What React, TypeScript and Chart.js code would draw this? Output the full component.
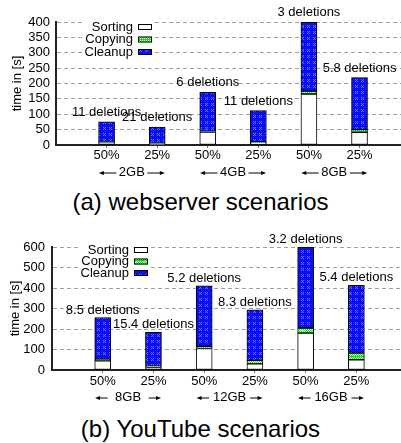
import React, { useEffect, useRef } from 'react';
import { Chart, registerables } from 'chart.js';

Chart.register(...registerables);

const FONT = '"Liberation Sans", Arial, Helvetica, sans-serif';

// ---------- data: (a) webserver scenarios ----------
const A_TICKS = ['50%', '25%', '50%', '25%', '50%', '25%'];
const A_GROUPS = ['2GB', '4GB', '8GB'];
const A_SORTING = [10, 4, 42, 7, 166, 41];
const A_COPYING = [1, 1, 2, 3, 9, 9];
const A_CLEANUP = [64, 53, 127, 102, 224, 169];
const A_DELETIONS = ['11 deletions', '21 deletions', '6 deletions', '11 deletions', '3 deletions', '5.8 deletions'];
const A_Y_MAX = 400;
const A_Y_STEP = 50;

// ---------- data: (b) YouTube scenarios ----------
const B_TICKS = ['50%', '25%', '50%', '25%', '50%', '25%'];
const B_GROUPS = ['8GB', '12GB', '16GB'];
const B_SORTING = [45, 12, 105, 30, 180, 50];
const B_COPYING = [8, 10, 10, 17, 25, 32];
const B_CLEANUP = [203, 162, 296, 246, 395, 331];
const B_DELETIONS = ['8.5 deletions', '15.4 deletions', '5.2 deletions', '8.3 deletions', '3.2 deletions', '5.4 deletions'];
const B_Y_MAX = 600;
const B_Y_STEP = 100;

const SERIES_NAMES = ['Sorting', 'Copying', 'Cleanup'];
const Y_TITLE = 'time in [s]';

function makePattern(base: string, dot: string, size: number, dots: number[][]) {
  const c = document.createElement('canvas');
  c.width = size;
  c.height = size;
  const g = c.getContext('2d')!;
  g.fillStyle = base;
  g.fillRect(0, 0, size, size);
  g.fillStyle = dot;
  dots.forEach(([x, y]) => g.fillRect(x, y, 1, 1));
  return g.createPattern(c, 'repeat')!;
}

const annotPlugin = {
  id: 'annot',
  afterDatasetsDraw(chart: any, _args: any, o: any) {
    const { ctx, chartArea } = chart;
    const xs = chart.scales.x;
    const ys = chart.scales.y;
    ctx.save();
    ctx.font = `13px ${FONT}`;
    ctx.fillStyle = '#000';
    ctx.textAlign = 'center';
    ctx.textBaseline = 'middle';
    o.labels.forEach((t: string, i: number) => {
      const x = xs.getPixelForValue(o.positions[i]);
      const y = ys.getPixelForValue(o.totals[i]) - o.labelOffset;
      ctx.fillText(t, x, y);
    });
    const gy = chartArea.bottom + o.groupDy;
    o.groups.forEach((g: string, k: number) => {
      const x1 = xs.getPixelForValue(o.positions[2 * k]);
      const x2 = xs.getPixelForValue(o.positions[2 * k + 1]);
      const mid = (x1 + x2) / 2;
      ctx.fillStyle = '#000';
      ctx.textAlign = 'center';
      ctx.fillText(g, mid, gy);
      ctx.strokeStyle = '#000';
      ctx.lineWidth = 1;
      [-1, 1].forEach((s) => {
        const a = mid + s * o.arrowInner;
        const b = mid + s * o.arrowOuter;
        ctx.beginPath();
        ctx.moveTo(a, gy + 0.5);
        ctx.lineTo(b - s * 4, gy + 0.5);
        ctx.stroke();
        ctx.beginPath();
        ctx.moveTo(b, gy + 0.5);
        ctx.lineTo(b - s * 5, gy + 0.5 - 2);
        ctx.lineTo(b - s * 5, gy + 0.5 + 2);
        ctx.closePath();
        ctx.fill();
      });
    });
    const ds = chart.data.datasets;
    const swR = chartArea.left + o.legendRight;
    const swL = swR - 14;
    const textR = swL - 5;
    const maxW = Math.max(...ds.map((d: any) => ctx.measureText(d.label).width));
    const top0 = chartArea.top + o.legendFirst;
    ctx.fillStyle = '#fff';
    ctx.fillRect(textR - maxW - 2, top0 - 6, maxW + 2 + 5 + 14 + 2, (ds.length - 1) * o.legendGap + 12);
    ds.forEach((d: any, i: number) => {
      const y = top0 + i * o.legendGap;
      ctx.fillStyle = '#000';
      ctx.textAlign = 'right';
      ctx.textBaseline = 'middle';
      ctx.fillText(d.label, textR, y);
      ctx.fillStyle = d.backgroundColor;
      ctx.fillRect(swL, y - 3, 14, 6);
      ctx.strokeStyle = '#000';
      ctx.lineWidth = 1;
      ctx.strokeRect(swL + 0.5, y - 2.5, 13, 5);
    });
    ctx.restore();
  },
};

type Spec = {
  ticks: string[];
  groups: string[];
  sorting: number[];
  copying: number[];
  cleanup: number[];
  deletions: string[];
  yMax: number;
  yStep: number;
  yWidth: number;
  xMax: number;
  titlePad: number;
  tickPad: number;
  xTickPad: number;
  labelOffset: number;
  arrowInner: number;
  legendFirst: number;
  legendGap: number;
  height: number;
};

function StackChart({ spec }: { spec: Spec }) {
  const ref = useRef<HTMLCanvasElement>(null);
  useEffect(() => {
    const blue = makePattern('#0a10f2', '#6a74ff', 6, [[1, 1], [3, 1], [2, 2], [1, 3], [3, 3]]);
    const green = makePattern('#10e010', '#e8ffe8', 4, [[0, 0], [2, 0], [1, 1], [3, 1], [0, 2], [2, 2]]);
    const positions = spec.ticks.map((_, i) => i + 1);
    const totals = spec.sorting.map((v, i) => v + spec.copying[i] + spec.cleanup[i]);
    const mk = (label: string, vals: number[], fill: any) => ({
      label,
      data: vals.map((v, i) => ({ x: positions[i], y: v })),
      backgroundColor: fill,
      borderColor: '#000',
      borderWidth: 1,
      borderSkipped: false,
      barThickness: 16,
    });
    const chart = new Chart(ref.current!, {
      type: 'bar',
      data: {
        datasets: [
          mk(SERIES_NAMES[0], spec.sorting, '#ffffff'),
          mk(SERIES_NAMES[1], spec.copying, green),
          mk(SERIES_NAMES[2], spec.cleanup, blue),
        ] as any,
      },
      options: {
        animation: false,
        responsive: false,
        layout: { padding: { top: 22, right: 0, left: 0, bottom: 0 } },
        plugins: {
          legend: { display: false },
          tooltip: { enabled: false },
          annot: {
            positions,
            totals,
            labels: spec.deletions,
            groups: spec.groups,
            labelOffset: spec.labelOffset,
            groupDy: 27.5,
            arrowInner: spec.arrowInner,
            arrowOuter: 33,
            legendRight: 96,
            legendFirst: spec.legendFirst,
            legendGap: spec.legendGap,
          },
        } as any,
        scales: {
          x: {
            type: 'linear',
            stacked: true,
            offset: false,
            min: 0,
            max: spec.xMax,
            afterBuildTicks: (s: any) => {
              s.ticks = positions.map((v) => ({ value: v }));
            },
            afterFit: (s: any) => {
              s.height = 43;
            },
            ticks: {
              autoSkip: false,
              maxRotation: 0,
              padding: spec.xTickPad,
              color: '#000',
              font: { family: FONT, size: 13 },
              callback: (v: any) => spec.ticks[positions.indexOf(v)] ?? '',
            },
            grid: { drawOnChartArea: false, drawTicks: true, tickLength: 3, color: '#777', offset: false },
            border: { color: '#222', width: 2 },
          },
          y: {
            stacked: true,
            min: 0,
            max: spec.yMax,
            afterFit: (s: any) => {
              s.width = spec.yWidth;
            },
            ticks: {
              stepSize: spec.yStep,
              autoSkip: false,
              padding: spec.tickPad,
              color: '#000',
              font: { family: FONT, size: 13 },
            },
            grid: { drawTicks: false, color: '#a0a0a0', lineWidth: 1 },
            border: { color: '#222', width: 2, dash: [4, 3] },
            title: {
              display: true,
              text: Y_TITLE,
              color: '#000',
              font: { family: FONT, size: 13 },
              padding: { top: spec.titlePad, bottom: 0 },
            },
          },
        },
      } as any,
      plugins: [annotPlugin],
    });
    return () => chart.destroy();
  }, [spec]);
  return <canvas ref={ref} width={401} height={spec.height} style={{ display: 'block' }} />;
}

const SPEC_A: Spec = {
  ticks: A_TICKS,
  groups: A_GROUPS,
  sorting: A_SORTING,
  copying: A_COPYING,
  cleanup: A_CLEANUP,
  deletions: A_DELETIONS,
  yMax: A_Y_MAX,
  yStep: A_Y_STEP,
  yWidth: 56,
  xMax: 6.82,
  titlePad: 10,
  tickPad: 6,
  xTickPad: 0,
  labelOffset: 9.5,
  arrowInner: 15.5,
  legendFirst: 5,
  legendGap: 12.5,
  height: 188,
};

const SPEC_B: Spec = {
  ticks: B_TICKS,
  groups: B_GROUPS,
  sorting: B_SORTING,
  copying: B_COPYING,
  cleanup: B_CLEANUP,
  deletions: B_DELETIONS,
  yMax: B_Y_MAX,
  yStep: B_Y_STEP,
  yWidth: 52,
  xMax: 6.88,
  titlePad: 7.5,
  tickPad: 7,
  xTickPad: 1,
  labelOffset: 7.5,
  arrowInner: 20.5,
  legendFirst: 3,
  legendGap: 11.5,
  height: 188,
};

export default function App() {
  const cap: React.CSSProperties = {
    position: 'absolute',
    left: 0,
    width: 401,
    textAlign: 'center',
    fontSize: 24,
    lineHeight: '24px',
    fontFamily: FONT,
    color: '#000',
  };
  return (
    <div style={{ position: 'absolute', left: 0, top: 0, width: 401, height: 443, background: '#fff' }}>
      <div style={{ position: 'absolute', left: 0, top: 0 }}>
        <StackChart spec={SPEC_A} />
      </div>
      <div style={{ ...cap, top: 190 }}>(a) webserver scenarios</div>
      <div style={{ position: 'absolute', left: 0, top: 225 }}>
        <StackChart spec={SPEC_B} />
      </div>
      <div style={{ ...cap, top: 417 }}>(b) YouTube scenarios</div>
    </div>
  );
}
